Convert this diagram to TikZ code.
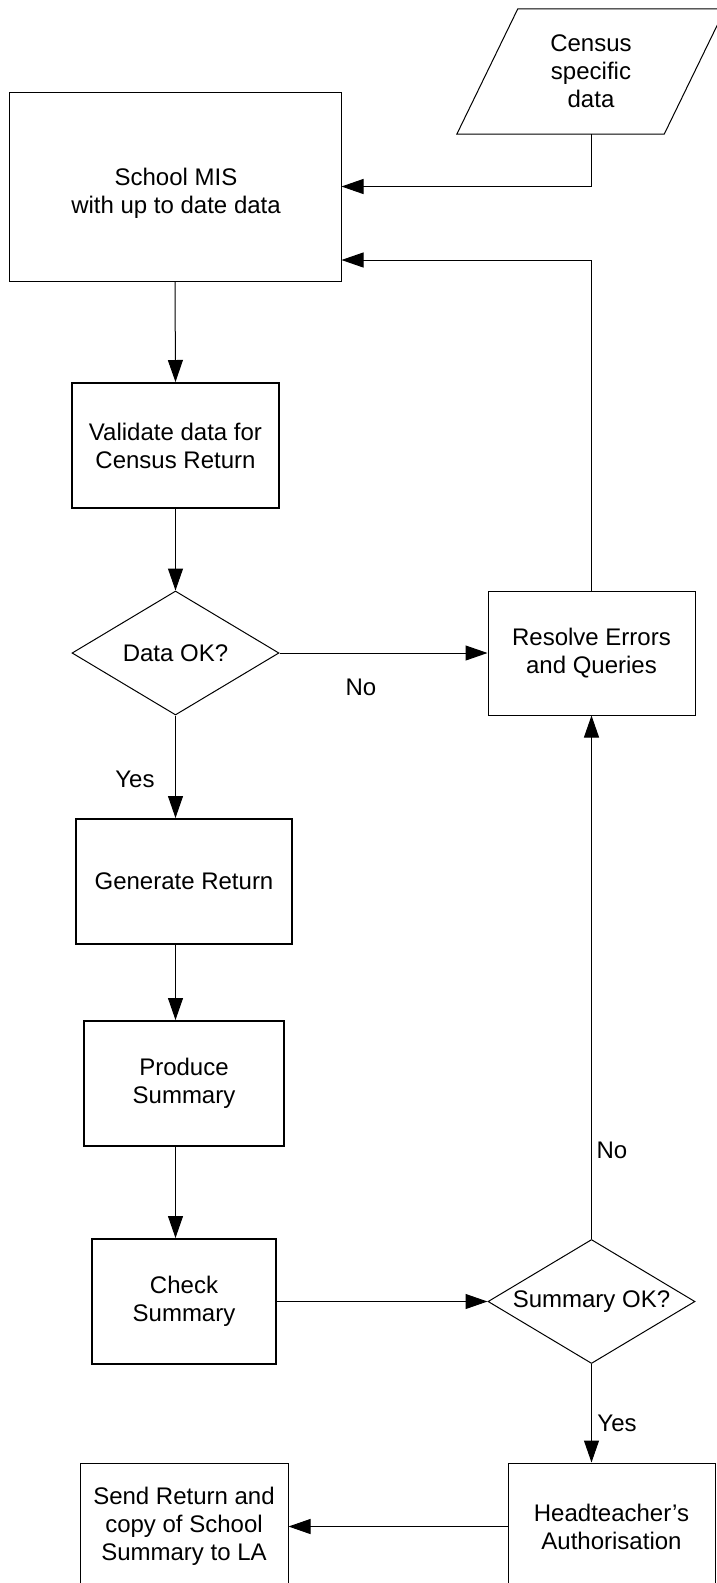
\documentclass[tikz,border=0pt]{standalone}
\usepackage{fontspec}
\setmainfont{Liberation Sans}
\usetikzlibrary{shapes.geometric,arrows.meta}

\begin{document}
\begin{tikzpicture}[x=1pt,y=1pt,
  every node/.style={font=\fontsize{24}{28}\selectfont, align=center, inner sep=0pt},
  proc/.style={draw, rectangle, line width=1pt},
  boldproc/.style={draw, rectangle, line width=2pt},
  decision/.style={draw, diamond, aspect=1.67, line width=1pt,
                   minimum width=207pt, minimum height=124pt},
  arr/.style={draw, line width=1pt, -{Triangle[length=22pt,width=15pt]}},
  lbl/.style={font=\fontsize{24}{28}\selectfont}
]
% page
\fill[white] (0,0) rectangle (716,-1583);
\useasboundingbox (0,0) rectangle (716,-1583);

% input data (parallelogram drawn around a plain text node)
\node[minimum width=207pt, minimum height=125pt] (census) at (591,-71.5) {Census\\specific\\data};
\draw[line width=1pt]
  ([xshift=-30.5pt]census.south west) -- ([xshift=-30.5pt]census.south east) --
  ([xshift=30.5pt]census.north east) -- ([xshift=30.5pt]census.north west) -- cycle;

% process steps
\node[proc, minimum width=332pt, minimum height=189pt] (mis) at (175,-186.5) {};
\node (mistext) at (176,-193) {School MIS\\with up to date data};
\node[boldproc, minimum width=207pt, minimum height=125pt] (validate) at (175.5,-445.5)
  {Validate data for\\Census Return};
\node[decision] (dataok) at (175.5,-653) {Data OK?};
\node[proc, minimum width=207pt, minimum height=124pt] (resolve) at (591.5,-653)
  {Resolve Errors\\and Queries};
\node[boldproc, minimum width=216pt, minimum height=125pt] (generate) at (184,-881.5)
  {Generate Return};
\node[boldproc, minimum width=200pt, minimum height=125pt] (produce) at (184,-1083.5)
  {Produce\\Summary};
\node[boldproc, minimum width=184pt, minimum height=125pt] (check) at (184,-1301.5)
  {Check\\Summary};
\node[decision] (summ) at (591.5,-1301.5) {Summary OK?};
\node[proc, minimum width=207pt, minimum height=127pt] (head) at (611.5,-1526.5)
  {Headteacher’s\\Authorisation};
\node[proc, minimum width=208pt, minimum height=127pt] (send) at (184,-1526.5)
  {Send Return and\\copy of School\\Summary to LA};

% connectors
\draw[arr] (census.south) |- (mis.east);
\draw[arr] (resolve.north) |- ([yshift=-73.5pt]mis.east);
\draw[arr] (mis.south) -- (validate.north);
\draw[arr] (validate.south) -- (dataok.north);
\draw[arr] (dataok.east) -- (resolve.west);
\draw[arr] (dataok.south) -- (dataok.south |- generate.north);
\draw[arr] (generate.south -| dataok.south) -- (produce.north -| dataok.south);
\draw[arr] (produce.south -| dataok.south) -- (check.north -| dataok.south);
\draw[arr] (check.east) -- (summ.west);
\draw[arr] (summ.north) -- (resolve.south);
\draw[arr] (summ.south) -- (head.north -| summ.south);
\draw[arr] (head.west |- send.east) -- (send.east);

% branch labels
\node[lbl] (no1) at (361,-687) {No};
\node[lbl] (yes1) at (135,-779) {Yes};
\node[lbl] (no2) at (612,-1150) {No};
\node[lbl] (yes2) at (617,-1423) {Yes};
\end{tikzpicture}
\end{document}
